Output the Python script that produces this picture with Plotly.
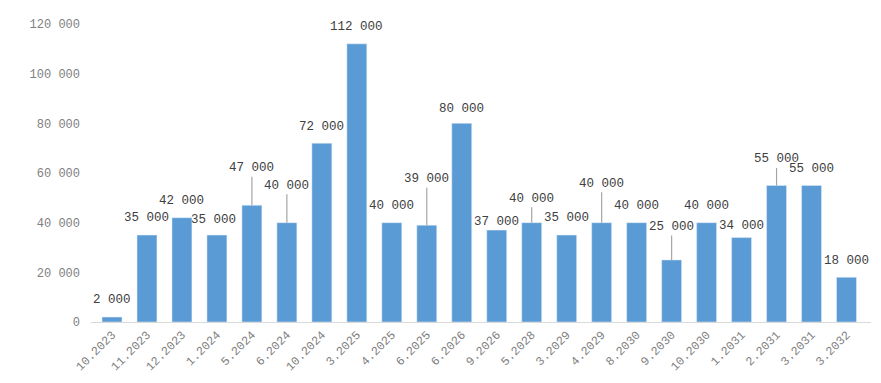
import plotly.graph_objects as go

categories = ["10.2023", "11.2023", "12.2023", "1.2024", "5.2024", "6.2024", "10.2024",
              "3.2025", "4.2025", "6.2025", "6.2026", "9.2026", "5.2028", "3.2029",
              "4.2029", "8.2030", "9.2030", "10.2030", "1.2031", "2.2031", "3.2031", "3.2032"]
values = [2000, 35000, 42000, 35000, 47000, 40000, 72000, 112000, 40000, 39000, 80000,
          37000, 40000, 35000, 40000, 40000, 25000, 40000, 34000, 55000, 55000, 18000]
y_ticks = [0, 20000, 40000, 60000, 80000, 100000, 120000]

# label placement (pixel offsets above bar top) and whether a leader line is drawn
label_offsets = [-17, -17, -17, -15, -37, -37, -16, -17, -17, -46, -14,
                 -8, -24, -17, -39, -17, -33, -17, -12, -26, -16, -16]
leaders = [False, False, False, False, True, True, False, False, False, True, False,
           False, True, False, True, False, True, False, False, True, False, False]
label_dx = [0, 0, 0, -3, 0, 0, 0, 0, 0, 0, 0, 0, 0, 0, 0, 0, 0, 0, 0, 0, 0, 0]


def fmt(v):
    return f"{v:,}".replace(",", " ")


FONT = "Liberation Mono"

fig = go.Figure(go.Bar(
    x=categories, y=values, marker_color="#5B9BD5", width=0.57,
    hoverinfo="x+y"))

for i, (v, off, lead, dx) in enumerate(zip(values, label_offsets, leaders, label_dx)):
    if lead:
        fig.add_annotation(x=i, y=v, text=fmt(v), showarrow=True, arrowhead=0,
                           arrowwidth=1.2, arrowcolor="#a6a6a6", ax=dx, ay=off,
                           standoff=0,
                           font=dict(family=FONT, size=12.5, color="#404040"))
    else:
        fig.add_annotation(x=i, y=v, text=fmt(v), showarrow=False, yshift=-off,
                           xshift=dx,
                           font=dict(family=FONT, size=12.5, color="#404040"))

fig.update_layout(
    width=881, height=383,
    margin=dict(l=83, r=18, t=16, b=69),
    plot_bgcolor="white", paper_bgcolor="white",
    showlegend=False, bargap=0.43,
    font=dict(family=FONT, size=12, color="#808080"),
)
fig.update_xaxes(type="category", tickangle=-45, showline=True, linecolor="#d9d9d9",
                 linewidth=1, automargin=False,
                 tickfont=dict(family=FONT, size=12, color="#808080"),
                 showgrid=False, ticks="")
fig.update_yaxes(range=[0, 120000], tickvals=y_ticks, ticktext=[fmt(t) for t in y_ticks],
                 showgrid=False, zeroline=False, showline=False, automargin=False,
                 ticklabelstandoff=10,
                 tickfont=dict(family=FONT, size=12, color="#808080"))

fig.write_html("out.html")
